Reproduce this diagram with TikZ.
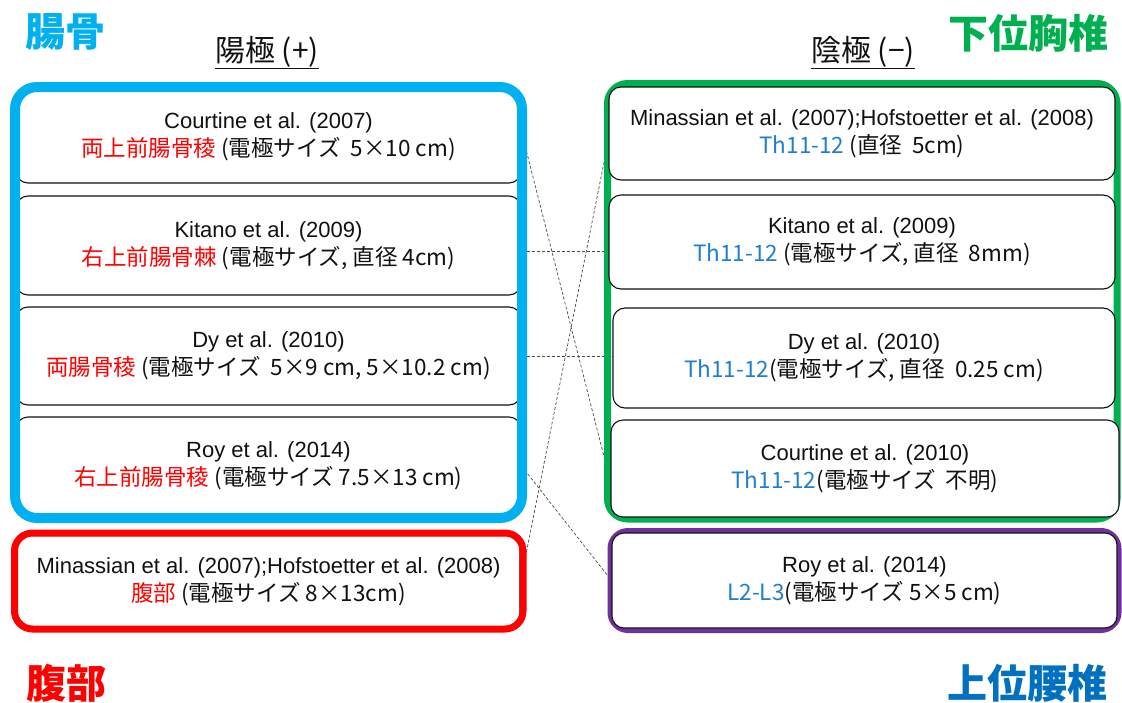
\documentclass[tikz,border=0pt]{standalone}
\usepackage{fontspec}
\setmainfont{Liberation Sans}
\newfontfamily\jp{Noto Sans CJK JP}
\usetikzlibrary{calc}
\pgfdeclarelayer{background}
\pgfsetlayers{background,main}
\definecolor{ccyan}{HTML}{00B0F0}
\definecolor{cgreen}{HTML}{00B050}
\definecolor{cred}{HTML}{FF0000}
\definecolor{cpurple}{HTML}{7030A0}
\definecolor{cblue}{HTML}{0070C0}
\definecolor{cth}{HTML}{1E7FD2}
\definecolor{ctext}{HTML}{111111}
\newcommand\ltwo{\jp\fontsize{22.5}{28}\selectfont}
\tikzset{
  card/.style={draw=ctext, line width=1.1pt, rounded corners=12pt, fill=white,
    align=center, inner sep=0pt, text=ctext, font=\fontsize{22}{28}\selectfont},
  bigtitle/.style={font=\jp\bfseries\fontsize{40}{40}\selectfont, inner sep=0pt},
  coltitle/.style={font=\jp\fontsize{30}{30}\selectfont, text=ctext, inner sep=0pt, anchor=base},
  link/.style={draw=black!70, line width=0.7pt, dash pattern=on 3pt off 2pt},
}
\begin{document}
\begin{tikzpicture}[x=1pt,y=-1pt]
\useasboundingbox (0,0) rectangle (1122,702);

% titles
\node[bigtitle, text=ccyan] (tIlium) at (65,32) {腸骨};
\node[bigtitle, text=cgreen] (tThor) at (1028,33) {下位胸椎};
\node[bigtitle, text=cred] (tAbd) at (66,683) {腹部};
\node[bigtitle, text=cblue] (tLumb) at (1027,683) {上位腰椎};
\node[coltitle] (tAnode) at (267,61) {\underline{陽極 (+)}};
\node[coltitle] (tCath) at (863,61) {\underline{陰極 (−)}};

% left column (anode)
\node[card, minimum width=505pt, minimum height=92pt] (L1) at (268.5,137)
  {Courtine et al. (2007)\\{\ltwo\textcolor{cred}{両上前腸骨稜} (電極サイズ\ \ 5×10 cm)}};
\node[card, minimum width=505pt, minimum height=99pt] (L2) at (268.5,245.5)
  {Kitano et al. (2009)\\{\ltwo\textcolor{cred}{右上前腸骨棘} (電極サイズ, 直径 4cm)}};
\node[card, minimum width=505pt, minimum height=98pt] (L3) at (268.5,356)
  {Dy et al. (2010)\\{\ltwo\textcolor{cred}{両腸骨稜} (電極サイズ\ \ 5×9 cm, 5×10.2 cm)}};
\node[card, minimum width=505pt, minimum height=98pt] (L4) at (268.5,466)
  {Roy et al. (2014)\\{\ltwo\textcolor{cred}{右上前腸骨稜} (電極サイズ 7.5×13 cm)}};
\draw[ccyan, line width=10pt, rounded corners=22pt] (15,87) rectangle (522,518);

\node[card, minimum width=503pt, minimum height=92pt] (AB) at (268.5,581.5)
  {Minassian et al. (2007);Hofstoetter et al. (2008)\\{\ltwo\textcolor{cred}{腹部} (電極サイズ 8×13cm)}};
\draw[cred, line width=7pt, rounded corners=18pt] (14.5,533) rectangle (523,629);

% right column (cathode)
\draw[cgreen, line width=7pt, rounded corners=20pt] (607.5,83.5) rectangle (1117,519);
\node[card, minimum width=506pt, minimum height=93pt] (R1) at (862,133.5)
  {Minassian et al. (2007);Hofstoetter et al. (2008)\\{\ltwo\textcolor{cth}{Th11-12} (直径\ \ 5cm)}};
\node[card, minimum width=506pt, minimum height=94pt] (R2) at (862,242)
  {Kitano et al. (2009)\\{\ltwo\textcolor{cth}{Th11-12} (電極サイズ, 直径\ \ 8mm)}};
\node[card, minimum width=502pt, minimum height=100pt] (R3) at (864,358)
  {Dy et al. (2010)\\{\ltwo\textcolor{cth}{Th11-12}(電極サイズ, 直径\ \ 0.25 cm)}};
\node[card, minimum width=508pt, minimum height=97pt] (R4) at (865,468.5)
  {Courtine et al. (2010)\\{\ltwo\textcolor{cth}{Th11-12}(電極サイズ\ \ 不明)}};

\draw[cpurple, line width=5pt, rounded corners=18pt] (610,530.5) rectangle (1119,630.5);
\node[card, minimum width=505pt, minimum height=95pt] (P) at (864.5,580.5)
  {Roy et al. (2014)\\{\ltwo\textcolor{cth}{L2-L3}(電極サイズ 5×5 cm)}};

% connectors
\coordinate (b1) at ([yshift=-6pt]L2.east);
\begin{pgfonlayer}{background}
\draw[link] ([yshift=5pt]L1.east) -- ([yshift=-13.5pt]R4.west);
\draw[link] (b1) -- (b1 -| R2.west);
\draw[link] (L3.east) -- (L3.east -| R3.west);
\draw[link] (L4.east) -- (P.west);
\draw[link] (AB.east) -- ([yshift=-6.5pt]R1.west);
\end{pgfonlayer}
\end{tikzpicture}
\end{document}
